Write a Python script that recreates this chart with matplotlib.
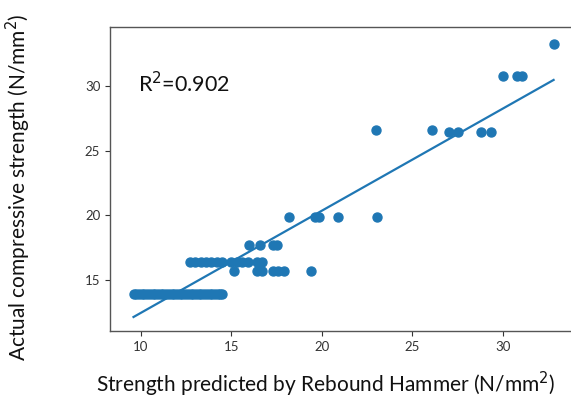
import numpy as np
import matplotlib
matplotlib.use("Agg")
import matplotlib.pyplot as plt

# points (predicted, actual)
x_low = [9.6, 9.75, 9.9, 10.05, 10.2, 10.35, 10.5, 10.65, 10.8, 10.95, 11.1, 11.25,
         11.4, 11.55, 11.7, 11.85, 12.0, 12.15, 12.3, 12.45, 12.6, 12.75, 12.9, 13.05,
         13.2, 13.35, 13.5, 13.65, 13.8, 13.95, 14.1, 14.25, 14.4, 14.5]
y_low = [13.9] * len(x_low)

x_mid = [12.7, 13.0, 13.3, 13.6, 13.9, 14.2, 14.5, 15.0, 15.3, 15.6, 15.9, 16.4, 16.7,
         15.15, 16.4, 16.7, 17.3, 17.6, 17.9, 19.4,
         16.0, 16.6, 17.3, 17.55]
y_mid = [16.4] * 13 + [15.7] * 7 + [17.7] * 4

x_high = [18.2, 19.6, 19.85, 20.9, 23.05,
          23.0, 26.1, 27.0, 27.5, 28.8, 29.35,
          30.0, 30.8, 31.05, 32.8]
y_high = [19.9, 19.9, 19.9, 19.9, 19.9,
          26.6, 26.6, 26.4, 26.4, 26.4, 26.4,
          30.75, 30.75, 30.75, 33.25]

x = np.array(x_low + x_mid + x_high)
y = np.array(y_low + y_mid + y_high)

# regression line
slope, intercept = 0.79, 4.55
r2 = 0.902

plt.rcParams["font.family"] = ["Lato", "DejaVu Sans"]
fig = plt.figure(figsize=(5.71, 3.98), dpi=100)
# right edge of the axes runs off the figure, as in the source image
ax = fig.add_axes([0.1926, 0.1683, 0.834, 0.7637])

blue = "#1f77b4"
ax.scatter(x, y, s=42, color=blue, zorder=3)
xl = np.array([x.min(), x.max()])
ax.plot(xl, slope * xl + intercept, color=blue, lw=1.6, zorder=2)

ax.set_xlim(8.3, 34.6)
ax.set_ylim(11.05, 34.55)
ax.set_xticks([10, 15, 20, 25, 30])
ax.set_yticks([15, 20, 25, 30])
ax.tick_params(labelsize=9.5, colors="#333333", length=3.5, width=0.8)
for sp in ax.spines.values():
    sp.set_color("#555555")
    sp.set_linewidth(1.0)

ax.text(0.058, 0.785, f"R$^2$={r2}", transform=ax.transAxes, fontsize=15.5,
        color="#111111")

fig.text(0.57, 0.035, "Strength predicted by Rebound Hammer (N/mm$^2$)",
         ha="center", va="center", fontsize=15, color="#111111")
fig.text(0.032, 0.53, "Actual compressive strength (N/mm$^2$)",
         ha="center", va="center", rotation=90, fontsize=15, color="#111111")

fig.savefig("out.png", dpi=100)
